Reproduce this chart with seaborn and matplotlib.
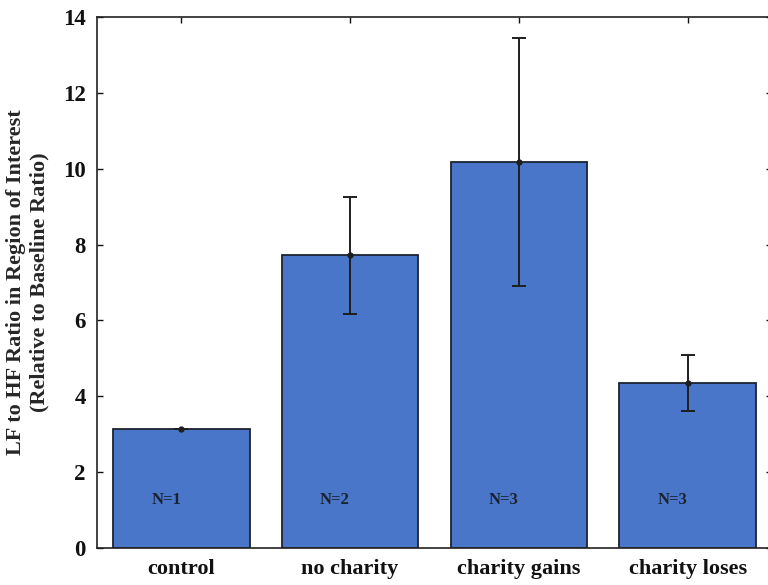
import matplotlib
matplotlib.use("Agg")
import matplotlib.pyplot as plt
import seaborn as sns
import pandas as pd

# Group means, error half-widths and group sizes
conditions = ["control", "no charity", "charity gains", "charity loses"]
ratio_means = [3.15, 7.72, 10.18, 4.35]
ratio_errors = [0.0, 1.54, 3.28, 0.74]
group_sizes = ["N=1", "N=2", "N=3", "N=3"]
y_ticks = [0, 2, 4, 6, 8, 10, 12, 14]

df = pd.DataFrame({"condition": conditions, "ratio": ratio_means})

sns.set_style("ticks")
plt.rcParams["font.family"] = ["Liberation Serif", "DejaVu Serif"]

fig = plt.figure(figsize=(7.68, 5.85), dpi=100)
ax = fig.add_axes([0.1263, 0.0632, 0.8789, 0.9077])

bar_color = "#4a76c9"
sns.barplot(data=df, x="condition", y="ratio", order=conditions,
            color=bar_color, saturation=1, width=0.81, errorbar=None,
            edgecolor="#1c2430", linewidth=1.3, ax=ax)

positions = range(len(conditions))
ax.errorbar(list(positions), ratio_means, yerr=ratio_errors, fmt="o",
            color="#1e1e1e", ms=3.5, elinewidth=1.4, capsize=5,
            capthick=1.4, zorder=5)

for i, label in enumerate(group_sizes):
    ax.text(i - 0.09, 1.27, label, ha="center", va="center",
            fontsize=12, fontweight="bold", color="#1a2230")

ax.set_xlim(-0.5, 3.5)
ax.set_ylim(0, 14)
ax.set_yticks(y_ticks)
ax.set_yticklabels([str(t) for t in y_ticks], fontsize=16.5,
                   fontweight="bold")
ax.set_xticks(list(positions))
ax.set_xticklabels(conditions, fontsize=16, fontweight="bold")
ax.set_xlabel("")
ax.set_ylabel("LF to HF Ratio in Region of Interest\n(Relative to Baseline Ratio)",
              fontsize=16, fontweight="bold", linespacing=1.2, labelpad=10)

ax.tick_params(axis="y", direction="in", length=4, width=1, pad=8,
               left=True, right=True, colors="#111111")
ax.tick_params(axis="x", direction="in", length=4, width=1, pad=8,
               bottom=False, top=True, colors="#111111")
for side in ["left", "right", "top", "bottom"]:
    ax.spines[side].set_visible(True)
    ax.spines[side].set_linewidth(1.2)
    ax.spines[side].set_color("#222222")

fig.savefig("out.png", dpi=100)
